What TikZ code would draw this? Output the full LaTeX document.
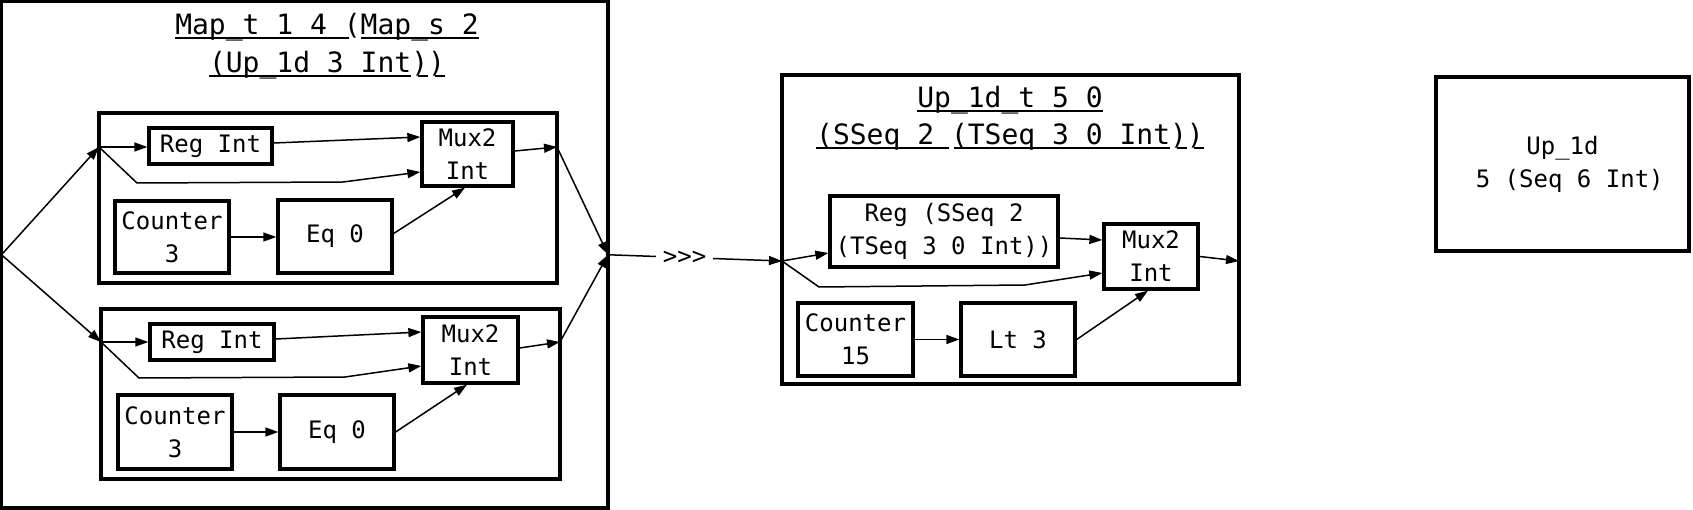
\documentclass[tikz,border=0pt]{standalone}
\usepackage{fontspec}
\setmonofont{DejaVu Sans Mono}
\usetikzlibrary{arrows.meta,calc}
\tikzset{
  blk/.style={draw, line width=3.3pt, inner sep=0pt, align=center, font=\ttfamily\fontsize{24}{33}\selectfont},
  grp/.style={draw, line width=3.3pt, inner sep=0pt, outer sep=0pt},
  conn/.style={line width=1.5pt, -{Triangle[length=13pt,width=9pt]}},
  ttl/.style={inner sep=0pt, anchor=base, font=\ttfamily\fontsize{28}{37}\selectfont},
  ulin/.style={line width=2pt},
  lbl/.style={fill=white, inner sep=0pt, inner xsep=7pt, minimum height=22pt, font=\ttfamily\fontsize{24}{33}\selectfont},
}
\newcommand\cw{16.86}
\newcommand\ulseg[3]{\draw[ulin] ($(#1.base west)+(#2*\cw,3.5)$) -- ($(#1.base west)+(#3*\cw,3.5)$);}
\begin{document}
\begin{tikzpicture}[x=1pt,y=-1pt]
\useasboundingbox (0,0) rectangle (1693,510);
% ---------- left group ----------
\node[grp, minimum width=606.5pt, minimum height=506.5pt] (outerL) at (304.75,254.75) {};
\node[ttl] (tL1) at (327,35) {Map\_t 1 4 (Map\_s 2};
\node[ttl] (tL2) at (327,73) {(Up\_1d 3 Int))};
\ulseg{tL1}{0}{10.3}
\ulseg{tL1}{11}{18}
\ulseg{tL2}{0}{12}
\ulseg{tL2}{12.4}{13}
\ulseg{tL2}{13.4}{14}
\node[grp, minimum width=458pt, minimum height=170pt] (gA) at (328,198) {};
\node[grp, minimum width=459pt, minimum height=170pt] (gB) at (330.5,394) {};
\node[blk, minimum width=123pt, minimum height=36pt] (reg1) at (210.5,146) {Reg Int};
\node[blk, minimum width=91pt, minimum height=64pt] (mux1) at (467.5,154) {Mux2\\Int};
\node[blk, minimum width=114pt, minimum height=72pt] (cnt1) at (172,237) {Counter\\3};
\node[blk, minimum width=114pt, minimum height=73pt] (eq1) at (335,236.5) {Eq 0};
\node[blk, minimum width=124pt, minimum height=36pt] (reg2) at (212,342) {Reg Int};
\node[blk, minimum width=95pt, minimum height=66pt] (mux2) at (470.5,350) {Mux2\\Int};
\node[blk, minimum width=114pt, minimum height=74pt] (cnt2) at (175,432) {Counter\\3};
\node[blk, minimum width=114pt, minimum height=74pt] (eq2) at (337,432) {Eq 0};
\coordinate (sA) at ($(gA.west)+(0,-51)$);
\coordinate (oA) at ($(gA.east)+(0,-51)$);
\coordinate (bA1) at (137,183);
\coordinate (bA2) at (343,182);
\coordinate (sB) at ($(gB.west)+(0,-52)$);
\coordinate (oB) at ($(gB.east)+(0,-52)$);
\coordinate (bB1) at (139,378);
\coordinate (bB2) at (345,377);
% connectors, group A
\draw[conn] (outerL.west) -- (sA);
\draw[conn] (sA) -- (sA -| reg1.west);
\draw[conn] (sA) -- (bA1) -- (bA2) -- ($(mux1.west)+(0,18)$);
\draw[conn] ($(reg1.east)+(0,-3)$) -- ($(mux1.west)+(0,-17)$);
\draw[conn] (cnt1.east) -- (cnt1.east -| eq1.west);
\draw[conn] ($(eq1.east)+(0,-3)$) -- ($(mux1.south)+(-2.5,0)$);
\draw[conn] ($(mux1.east)+(0,-3)$) -- (oA);
\draw[conn] (oA) -- (outerL.east);
% connectors, group B
\draw[conn] (outerL.west) -- (sB);
\draw[conn] (sB) -- (sB -| reg2.west);
\draw[conn] (sB) -- (bB1) -- (bB2) -- ($(mux2.west)+(0,16)$);
\draw[conn] ($(reg2.east)+(0,-3)$) -- ($(mux2.west)+(0,-18)$);
\draw[conn] (cnt2.east) -- (cnt2.east -| eq2.west);
\draw[conn] (eq2.east) -- ($(mux2.south)+(-3.5,0)$);
\draw[conn] ($(mux2.east)+(0,-2)$) -- (oB);
\draw[conn] (oB) -- (outerL.east);
% ---------- middle group ----------
\node[grp, minimum width=457pt, minimum height=309pt] (mid) at (1010.5,229.5) {};
\node[ttl] (tM1) at (1010,108) {Up\_1d\_t 5 0};
\node[ttl] (tM2) at (1010,145) {(SSeq 2 (TSeq 3 0 Int))};
\ulseg{tM1}{0}{11}
\ulseg{tM2}{0}{7.9}
\ulseg{tM2}{8.2}{21}
\ulseg{tM2}{21.4}{22}
\ulseg{tM2}{22.4}{23}
\node[blk, minimum width=228pt, minimum height=71pt] (regS) at (944,231.5) {Reg (SSeq 2\\(TSeq 3 0 Int))};
\node[blk, minimum width=94pt, minimum height=65pt] (muxM) at (1151,256.5) {Mux2\\Int};
\node[blk, minimum width=115pt, minimum height=73pt] (cnt15) at (855.5,339.5) {Counter\\15};
\node[blk, minimum width=114pt, minimum height=73pt] (lt3) at (1018,339.5) {Lt 3};
\coordinate (sM) at ($(mid.west)+(0,31.5)$);
\coordinate (oM) at ($(mid.east)+(0,31.5)$);
\coordinate (bM1) at (819,287);
\coordinate (bM2) at (1025,285);
\draw[conn] (outerL.east) -- node[lbl, pos=0.44] (seq) {>>>} (sM);
\draw[conn] (sM) -- ($(regS.west)+(0,21.5)$);
\draw[conn] (sM) -- (bM1) -- (bM2) -- ($(muxM.west)+(0,16.5)$);
\draw[conn] ($(regS.east)+(0,6.5)$) -- ($(muxM.west)+(0,-16.5)$);
\draw[conn] (cnt15.east) -- (cnt15.east -| lt3.west);
\draw[conn] (lt3.east) -- ($(muxM.south)+(-3,0)$);
\draw[conn] (muxM.east) -- (oM);
% ---------- right box ----------
\node[blk, minimum width=253pt, minimum height=174pt] (rbox) at (1562.5,164) {Up\_1d\\\mbox{}\ 5 (Seq 6 Int)};
\end{tikzpicture}
\end{document}
